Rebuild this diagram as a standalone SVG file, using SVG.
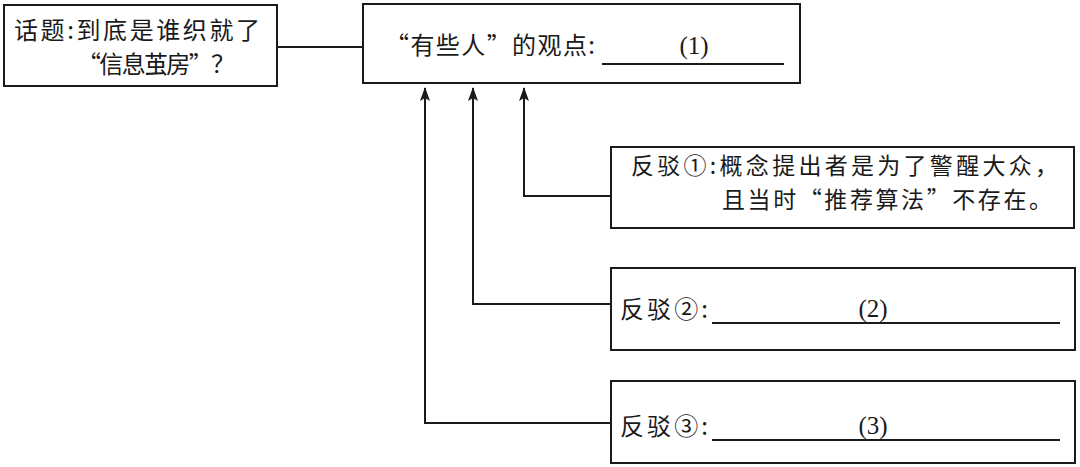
<svg xmlns="http://www.w3.org/2000/svg" width="1080" height="467" viewBox="0 0 1080 467">
<style>
.box{fill:#fff;stroke:#1a1a1a;stroke-width:2}
.ln{fill:none;stroke:#1a1a1a;stroke-width:2}
.t{font-family:"Noto Sans CJK SC","Noto Sans CJK JP",sans-serif;font-size:24px;fill:#1a1a1a}
.s{font-size:23px}
.n{font-family:"Liberation Serif",serif;font-size:25px;fill:#1a1a1a}
</style>
<defs>
<marker id="ah" viewBox="0 0 14 10" refX="13" refY="5" markerWidth="14" markerHeight="10" markerUnits="userSpaceOnUse" orient="auto">
<path d="M0,0 L14,5 L0,10 L3,5 Z" fill="#1a1a1a"/>
</marker>
</defs>
<g id="connectors">
<line class="ln" x1="277" y1="47" x2="363" y2="47"/>
<path class="ln" d="M611,196 H524 V88" marker-end="url(#ah)"/>
<path class="ln" d="M611,304 H473 V88" marker-end="url(#ah)"/>
<path class="ln" d="M611,423 H425 V88" marker-end="url(#ah)"/>
</g>
<g id="topic">
<rect class="box" x="4" y="5" width="273" height="81"/>
<text class="t" x="14" y="39" textLength="246" lengthAdjust="spacing">话题:到底是谁织就了</text>
<text class="t" x="77" y="73" textLength="158" lengthAdjust="spacing">“信息茧房”？</text>
</g>
<g id="view">
<rect class="box" x="363" y="4" width="437" height="79"/>
<text class="t" x="385" y="54" textLength="210" lengthAdjust="spacing">“有些人”的观点:</text>
<line class="ln" x1="602" y1="64" x2="784" y2="64"/>
<text class="n" x="694" y="54" text-anchor="middle">(1)</text>
</g>
<g id="rebut1">
<rect class="box" x="611" y="147" width="463" height="81"/>
<text class="t s" x="631" y="174" textLength="427" lengthAdjust="spacing">反驳①:概念提出者是为了警醒大众，</text>
<text class="t s" x="722" y="208" textLength="330" lengthAdjust="spacing">且当时“推荐算法”不存在。</text>
</g>
<g id="rebut2">
<rect class="box" x="611" y="268" width="464" height="82"/>
<text class="t" x="620" y="318" textLength="88" lengthAdjust="spacing">反驳②:</text>
<line class="ln" x1="712" y1="323" x2="1060" y2="323"/>
<text class="n" x="873" y="317" text-anchor="middle">(2)</text>
</g>
<g id="rebut3">
<rect class="box" x="611" y="381" width="464" height="82"/>
<text class="t" x="620" y="435" textLength="88" lengthAdjust="spacing">反驳③:</text>
<line class="ln" x1="712" y1="440" x2="1060" y2="440"/>
<text class="n" x="873" y="434" text-anchor="middle">(3)</text>
</g>
</svg>
